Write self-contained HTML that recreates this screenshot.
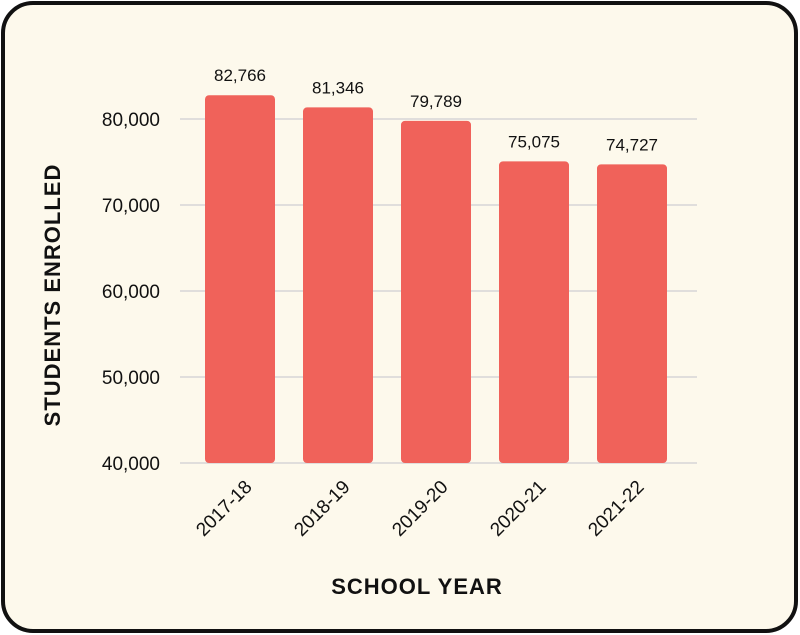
<!DOCTYPE html>
<html><head><meta charset="utf-8"><style>
body{margin:0;background:#fff;width:800px;height:635px;overflow:hidden}
svg{display:block}
</style></head><body>
<svg width="800" height="635">
<rect x="3" y="3" width="793" height="628" rx="30" fill="#fdf9ec" stroke="#111" stroke-width="4"/>
<g id="grid"></g><g id="bars"></g><g id="labels"></g>
<text x="60" y="295" transform="rotate(-90 60 295)" text-anchor="middle" font-family="Liberation Sans, sans-serif" font-weight="bold" font-size="22" letter-spacing="1" fill="#111">STUDENTS ENROLLED</text>
<text x="417" y="594" text-anchor="middle" font-family="Liberation Sans, sans-serif" font-weight="bold" font-size="22" letter-spacing="1" fill="#111">SCHOOL YEAR</text>
</svg>
<script>
const categories=["2017-18","2018-19","2019-20","2020-21","2021-22"];
const values=[82766,81346,79789,75075,74727];
const ticks=[40000,50000,60000,70000,80000];
const NS="http://www.w3.org/2000/svg";
const y=v=>463-(v-40000)*0.0086;
const x=i=>205+i*98;
function mk(t,a,p){const e=document.createElementNS(NS,t);for(const k in a)e.setAttribute(k,a[k]);p.appendChild(e);return e;}
const g=document.getElementById('grid'),b=document.getElementById('bars'),l=document.getElementById('labels');
ticks.forEach(t=>{
 const ln=mk('line',{x1:180,x2:697,y1:y(t),y2:y(t),stroke:'#d6d6d6','stroke-width':1.5},g);
 
 
 const tx=mk('text',{x:160,y:y(t)+7,'text-anchor':'end','font-family':'Liberation Sans Narrow, Liberation Sans, sans-serif','font-size':19,fill:'#111'},g);
 tx.textContent=t.toLocaleString('en-US');
 
 
});
values.forEach((v,i)=>{
 const r=mk('rect',{x:x(i),y:y(v),width:70,height:463-y(v),rx:4,fill:'#f0625a'},b);
 
 
 const vt=mk('text',{x:x(i)+35,y:y(v)-14,'text-anchor':'middle','font-family':'Liberation Sans, sans-serif','font-size':17,fill:'#111'},l);
 vt.textContent=v.toLocaleString('en-US');
 
 
 const cx=x(i)+48,cy=488;
 const ct=mk('text',{x:cx,y:cy,'text-anchor':'end','font-family':'Liberation Sans Narrow, Liberation Sans, sans-serif','font-size':19,fill:'#111',transform:`rotate(-45 ${cx} ${cy})`},l);
 ct.textContent=categories[i];
 
 
});
</script>
</body></html>
